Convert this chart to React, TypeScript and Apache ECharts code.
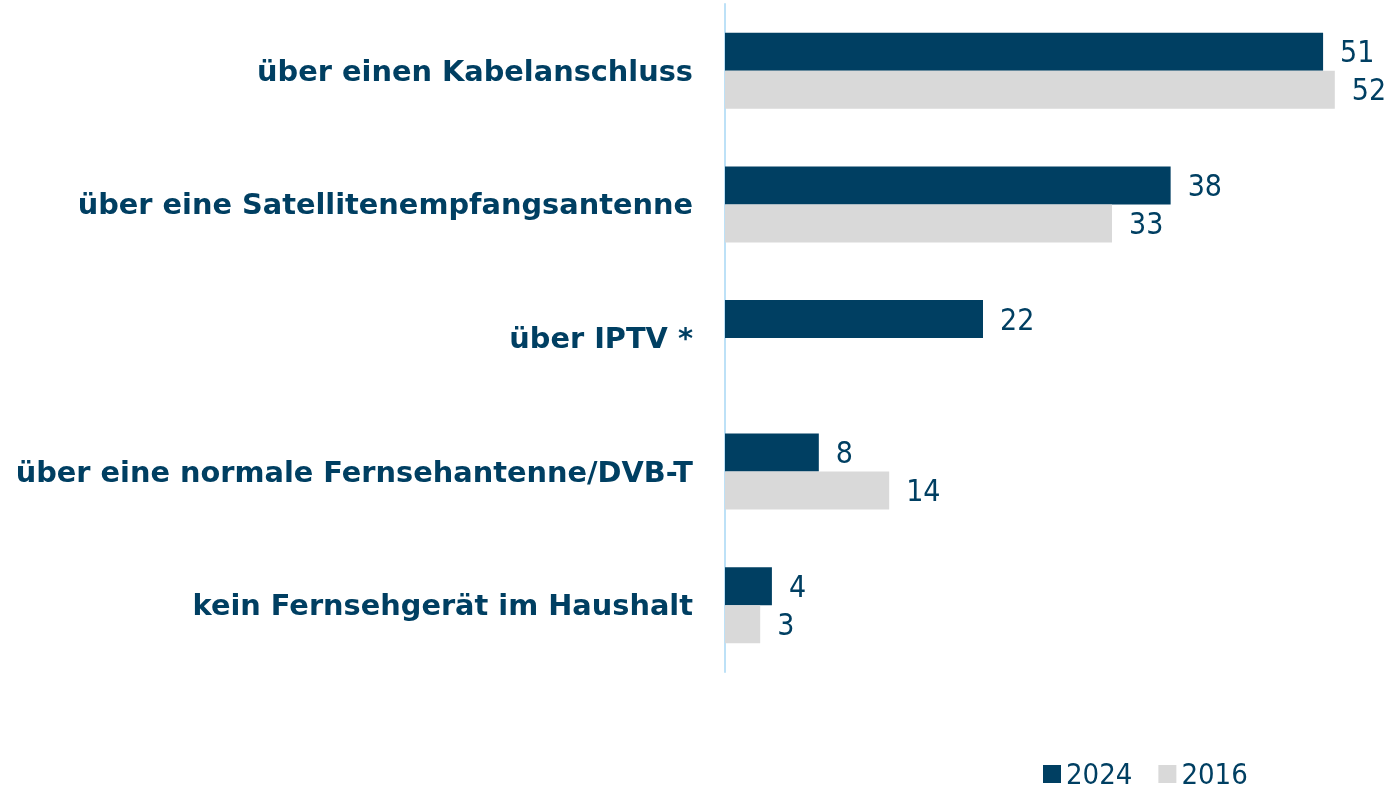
import React, { useEffect, useRef } from "react";
import * as echarts from "echarts";

const categories = [
  "über einen Kabelanschluss",
  "über eine Satellitenempfangsantenne",
  "über IPTV *",
  "über eine normale Fernsehantenne/DVB-T",
  "kein Fernsehgerät im Haushalt",
];
const values2024 = [51, 38, 22, 8, 4];
const values2016: (number | null)[] = [52, 33, null, 14, 3];
const seriesNames = ["2024", "2016"];

const NAVY = "#003F62";
const GRAY = "#D9D9D9";
const FONT = "'DejaVu Sans Condensed', 'DejaVu Sans', sans-serif";
const BOLD_FONT = "'DejaVu Sans', sans-serif";

export default function App() {
  const ref = useRef<HTMLDivElement>(null);
  useEffect(() => {
    if (!ref.current) return;
    const chart = echarts.init(ref.current, null, { renderer: "svg" });
    chart.setOption({
      animation: false,
      grid: { left: 725, top: 4, bottom: 118, right: 19, containLabel: false },
      legend: {
        left: 1043,
        top: 759,
        padding: 0,
        itemWidth: 18,
        itemHeight: 18,
        itemGap: 26,
        icon: "rect",
        textStyle: { color: NAVY, fontSize: 29, lineHeight: 30, fontFamily: FONT },
        data: seriesNames,
      },
      xAxis: {
        type: "value",
        min: 0,
        max: 55,
        show: false,
      },
      yAxis: {
        type: "category",
        inverse: true,
        data: categories,
        axisLine: { show: true, lineStyle: { color: "#BDE1F7", width: 2 } },
        axisTick: { show: false },
        axisLabel: {
          color: NAVY,
          fontSize: 28.8,
          fontWeight: "bold",
          fontFamily: BOLD_FONT,
          margin: 32,
        },
      },
      series: [
        {
          name: seriesNames[0],
          type: "bar",
          data: values2024,
          barWidth: 38,
          barGap: "0%",
          itemStyle: { color: NAVY },
          label: {
            show: true,
            position: "right",
            distance: 17,
            color: NAVY,
            fontSize: 30,
            fontFamily: FONT,
          },
        },
        {
          name: seriesNames[1],
          type: "bar",
          data: values2016,
          barWidth: 38,
          barGap: "0%",
          itemStyle: { color: GRAY },
          label: {
            show: true,
            position: "right",
            distance: 17,
            color: NAVY,
            fontSize: 30,
            fontFamily: FONT,
          },
        },
      ],
    });
    return () => chart.dispose();
  }, []);
  return (
    <div
      ref={ref}
      style={{ position: "fixed", left: 0, top: 0, width: 1389, height: 790 }}
    />
  );
}
